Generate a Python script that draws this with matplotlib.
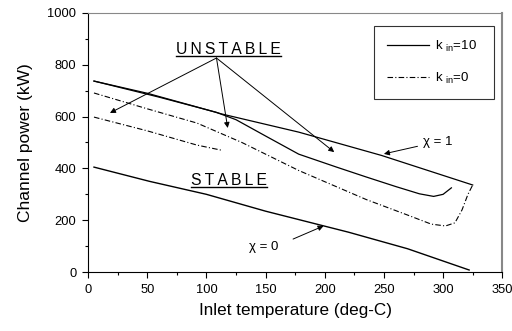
import matplotlib
matplotlib.use("Agg")
import matplotlib.pyplot as plt
from matplotlib.ticker import MultipleLocator

plt.rcParams['font.family'] = ['Liberation Sans', 'DejaVu Sans']
plt.rcParams['mathtext.fontset'] = 'custom'
plt.rcParams['mathtext.rm'] = 'Liberation Sans'

# chi = 1 boundary (solid)
chi1_t = [5, 50, 92, 113, 178, 248, 325]
chi1_p = [737, 690, 637, 610, 540, 450, 336]

# stability boundary, k_in = 10 (solid)
k10_t = [5, 60, 108, 125, 150, 178, 210, 235, 260, 280, 292, 300, 307]
k10_p = [737, 675, 617, 588, 525, 455, 405, 367, 330, 302, 292, 300, 325]

# stability boundary, k_in = 0 (dash-dot)
k0_t = [5, 50, 92, 130, 178, 235, 270, 290, 302, 310, 316, 321, 325]
k0_p = [691, 630, 575, 500, 392, 280, 220, 185, 178, 190, 240, 300, 336]

# short k_in = 0 branch (dash-dot)
k0b_t = [5, 50, 92, 113]
k0b_p = [598, 545, 490, 470]

# chi = 0 boundary (solid)
chi0_t = [5, 52, 100, 150, 220, 270, 322]
chi0_p = [405, 350, 300, 235, 154, 90, 8]

dashdot = (0, (5, 2, 1, 2))

fig = plt.figure(figsize=(5.12, 3.31), dpi=100)
ax = fig.add_axes([0.172, 0.178, 0.809, 0.783])

ax.plot(chi1_t, chi1_p, color='black', lw=0.9)
ax.plot(k10_t, k10_p, color='black', lw=0.9, label=r'k $_{\rm in}$=10')
ax.plot(k0_t, k0_p, color='black', lw=0.8, ls=dashdot, label=r'k $_{\rm in}$=0')
ax.plot(k0b_t, k0b_p, color='black', lw=0.8, ls=dashdot)
ax.plot(chi0_t, chi0_p, color='black', lw=1.0)

ax.set_xlim(0, 350)
ax.set_ylim(0, 1000)
ax.xaxis.set_major_locator(MultipleLocator(50))
ax.xaxis.set_minor_locator(MultipleLocator(25))
ax.yaxis.set_major_locator(MultipleLocator(200))
ax.yaxis.set_minor_locator(MultipleLocator(100))
ax.tick_params(which='major', length=4.5, width=0.8, labelsize=9.3, pad=4)
ax.tick_params(which='minor', length=2.5, width=0.8)
for s in ['top', 'right']:
    ax.spines[s].set_color('#888888')
ax.spines['right'].set_linewidth(1.5)
ax.tick_params(axis='both', which='both', top=False, right=False)

ax.set_xlabel('Inlet temperature (deg-C)', fontsize=12.3, labelpad=5)
ax.set_ylabel('Channel power (kW)', fontsize=12.5, labelpad=10)

ts = '\u2009'
t_un = ax.text(119, 857, ts.join('UNSTABLE'), fontsize=11.3, ha='center', va='center')
t_st = ax.text(119.5, 355, ts.join('STABLE'), fontsize=11.3, ha='center', va='center')

# arrows from UNSTABLE label
src = (108.5, 826)
for tip in [(18.5, 614), (118, 556), (208, 463)]:
    ax.annotate('', xy=tip, xytext=src,
                arrowprops=dict(arrowstyle='-|>', color='black', lw=0.7,
                                mutation_scale=8, shrinkA=0, shrinkB=0))

ax.annotate('\u03c7 = 1', xy=(250, 456), xytext=(283, 503), fontsize=9.5,
            va='center', ha='left',
            arrowprops=dict(arrowstyle='-|>', color='black', lw=0.7,
                            mutation_scale=8, shrinkA=2, shrinkB=0))
ax.annotate('\u03c7 = 0', xy=(199, 178), xytext=(136, 95), fontsize=9.5,
            va='center', ha='left',
            arrowprops=dict(arrowstyle='-|>', color='black', lw=0.7,
                            mutation_scale=8, shrinkA=0, shrinkB=0,
                            relpos=(1.5, 1.2)))

leg = ax.legend(loc='upper left', bbox_to_anchor=(0.69, 0.676, 0.291, 0.274),
                mode='expand', borderaxespad=0, fontsize=9.5, frameon=True,
                fancybox=False, edgecolor='black', handlelength=3.2,
                labelspacing=1.25, borderpad=1.0, handletextpad=0.4)
leg.get_frame().set_linewidth(0.8)

# underline the region labels
fig.canvas.draw()
inv = ax.transData.inverted()
for t in [t_un, t_st]:
    bb = t.get_window_extent()
    (x0, y0), (x1, _) = inv.transform([(bb.x0, bb.y0 + 1), (bb.x1, bb.y0 + 1)])
    ax.plot([x0, x1], [y0, y0], color='black', lw=1.0)

fig.savefig('out.png', dpi=100)
